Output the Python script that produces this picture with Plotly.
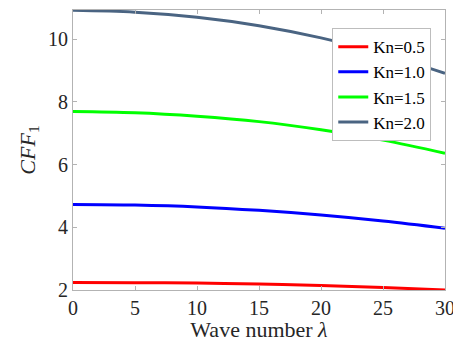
import plotly.graph_objects as go

wave_number = [0, 5, 10, 15, 20, 25, 30]
kn_labels = ["Kn=0.5", "Kn=1.0", "Kn=1.5", "Kn=2.0"]
cff_kn05 = [2.24, 2.235, 2.22, 2.19, 2.14, 2.08, 2.00]
cff_kn10 = [4.73, 4.71, 4.65, 4.54, 4.39, 4.20, 3.97]
cff_kn15 = [7.69, 7.65, 7.54, 7.37, 7.11, 6.78, 6.36]
cff_kn20 = [10.92, 10.86, 10.70, 10.43, 10.04, 9.53, 8.91]
x_ticks = [0, 5, 10, 15, 20, 25, 30]
y_ticks = [2, 4, 6, 8, 10]
colors = ["#ff0000", "#0000ff", "#00ff00", "#4a6482"]

fig = go.Figure()
for name, ys, c in zip(kn_labels, [cff_kn05, cff_kn10, cff_kn15, cff_kn20], colors):
    fig.add_trace(go.Scatter(x=wave_number, y=ys, mode="lines", name=name,
                             line=dict(color=c, width=3, shape="spline")))

font = "Liberation Serif"
fig.update_layout(
    width=453, height=342,
    margin=dict(l=73, r=8, t=10, b=52),
    paper_bgcolor="white", plot_bgcolor="white",
    font=dict(family=font, size=20, color="#262626"),
    showlegend=True,
    legend=dict(x=0.83, y=0.935, xanchor="center", yanchor="top",
                bgcolor="white", bordercolor="#bdbdbd", borderwidth=1,
                font=dict(family=font, size=17, color="#000000"),
                tracegroupgap=0, itemwidth=30),
    xaxis=dict(range=[0, 30], tickvals=x_ticks, ticklabeloverflow="allow",
               automargin=False,
               tickfont=dict(family=font, size=20, color="#262626"),
               showgrid=False, zeroline=False, showline=True, mirror="ticks",
               linecolor="#b3b3b3", linewidth=1, ticks="inside", ticklen=4,
               tickcolor="#b3b3b3",
               title=dict(text="Wave number <i>λ</i>", standoff=0,
                          font=dict(family=font, size=22, color="#262626"))),
    yaxis=dict(range=[2, 10.93], tickvals=y_ticks, ticklabeloverflow="allow",
               automargin=False,
               tickfont=dict(family=font, size=20, color="#262626"),
               showgrid=False, zeroline=False, showline=True, mirror="ticks",
               linecolor="#b3b3b3", linewidth=1, ticks="inside", ticklen=4,
               tickcolor="#b3b3b3",
               title=dict(text="<i>CFF</i><sub>1</sub>", standoff=6,
                          font=dict(family=font, size=22, color="#262626"))),
)
fig.write_html("out.html")
